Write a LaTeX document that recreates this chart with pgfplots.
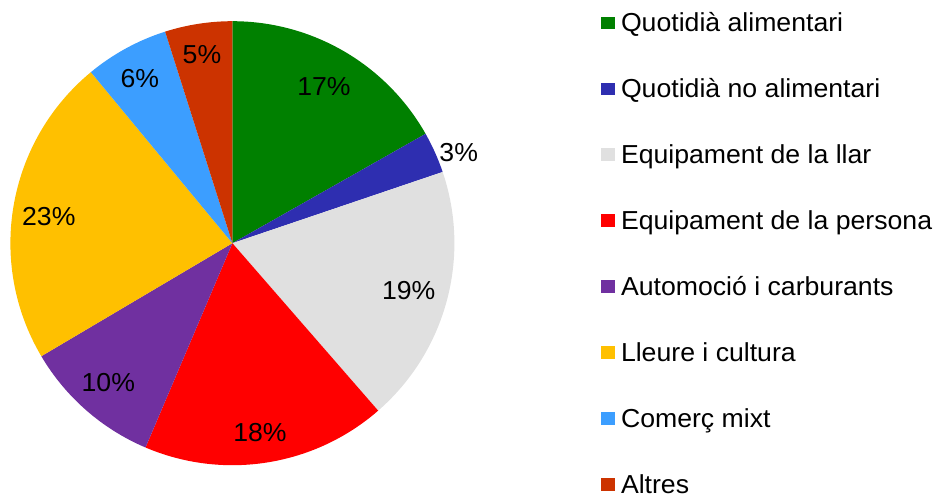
\documentclass[border=0pt]{standalone}
\usepackage{pgfplots}
\pgfplotsset{compat=1.18}
\usepackage{fontspec}
\setmainfont{Liberation Sans}
\definecolor{cQA}{HTML}{008000}
\definecolor{cQN}{HTML}{2E2EB0}
\definecolor{cEL}{HTML}{E0E0E0}
\definecolor{cEP}{HTML}{FF0000}
\definecolor{cAC}{HTML}{7030A0}
\definecolor{cLC}{HTML}{FFC000}
\definecolor{cCM}{HTML}{3C9EFF}
\definecolor{cAL}{HTML}{CC3300}
\newcommand{\wide}[1]{\scalebox{1.025}[1]{#1}}
\begin{document}
\begin{tikzpicture}
\path[use as bounding box] (0,0) rectangle (467.5pt,-248.5pt);
% shares (%): 16.8, 3.0, 18.8, 17.8, 10.1, 22.5, 6.1, 4.9 -> angle = 90 - 3.6*cumulative
\begin{axis}[
  x=111pt, y=111pt,
  xmin=-1, xmax=1, ymin=-1, ymax=1,
  hide axis, clip=false,
  at={(116.2pt,-121.6pt)}, anchor=center,
]
\fill[cQA] (axis cs:0,0) -- ++(90:111pt) arc[start angle=90, end angle=29.52, radius=111pt] -- cycle;
\fill[cQN] (axis cs:0,0) -- ++(29.52:111pt) arc[start angle=29.52, end angle=18.72, radius=111pt] -- cycle;
\fill[cEL] (axis cs:0,0) -- ++(18.72:111pt) arc[start angle=18.72, end angle=-48.96, radius=111pt] -- cycle;
\fill[cEP] (axis cs:0,0) -- ++(-48.96:111pt) arc[start angle=-48.96, end angle=-113.04, radius=111pt] -- cycle;
\fill[cAC] (axis cs:0,0) -- ++(-113.04:111pt) arc[start angle=-113.04, end angle=-149.4, radius=111pt] -- cycle;
\fill[cLC] (axis cs:0,0) -- ++(-149.4:111pt) arc[start angle=-149.4, end angle=-230.4, radius=111pt] -- cycle;
\fill[cCM] (axis cs:0,0) -- ++(-230.4:111pt) arc[start angle=-230.4, end angle=-252.36, radius=111pt] -- cycle;
\fill[cAL] (axis cs:0,0) -- ++(-252.36:111pt) arc[start angle=-252.36, end angle=-270, radius=111pt] -- cycle;
\end{axis}
\begin{scope}[every node/.style={font=\fontsize{13pt}{15pt}\selectfont, inner sep=0pt, anchor=base, text=black}]
\node at (162pt,-48pt) {\wide{17\%}};
\node at (229.35pt,-80.85pt) {\wide{3\%}};
\node at (204.35pt,-149.65pt) {\wide{19\%}};
\node at (130pt,-220.5pt) {\wide{18\%}};
\node at (54.15pt,-195.85pt) {\wide{10\%}};
\node at (24.4pt,-112.5pt) {\wide{23\%}};
\node at (69.9pt,-43.65pt) {\wide{6\%}};
\node at (101pt,-32pt) {\wide{5\%}};
\end{scope}
\begin{scope}[every node/.style={font=\fontsize{13pt}{15pt}\selectfont, inner sep=0pt, anchor=base west, text=black}]
\foreach \lab/\col [count=\i from 0] in {Quotidià alimentari/cQA, Quotidià no alimentari/cQN, Equipament de la llar/cEL, Equipament de la persona/cEP, Automoció i carburants/cAC, Lleure i cultura/cLC, Comerç mixt/cCM, Altres/cAL}{
  \pgfmathsetmacro{\b}{-(31.7+65.9*\i)/2}
  \fill[\col] (300.5pt,\b pt+7.5pt) rectangle (307.5pt,\b pt+1.2pt);
  \node at (310.3pt,\b pt) {\wide{\lab}};
}
\end{scope}
\end{tikzpicture}
\end{document}
